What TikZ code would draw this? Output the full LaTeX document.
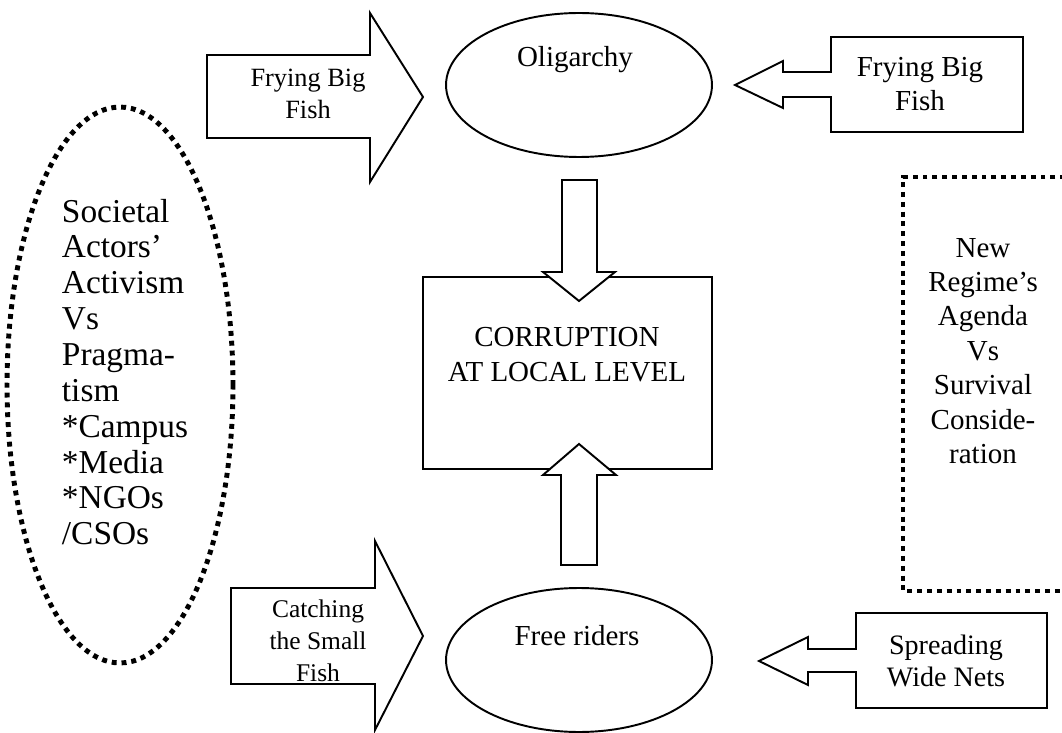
\documentclass[tikz,border=0pt]{standalone}
\usepackage{fontspec}
\setmainfont{Liberation Serif}
\usetikzlibrary{shapes.geometric,positioning}

\begin{document}
\begin{tikzpicture}[x=0.02cm,y=-0.02cm,line width=1.1pt,
    oval/.style={draw,ellipse,minimum width=5.32cm,minimum height=2.88cm,inner sep=0pt},
    blk/.style={draw,fill=white,line join=miter},
    dots/.style={draw,line width=2.8pt,dash pattern=on 2.8pt off 2.8pt},
    txt/.style={align=center,inner sep=0pt,font=\fontsize{16.5}{19.8}\selectfont},
    smalltxt/.style={align=center,inner sep=0pt,font=\fontsize{14.5}{18.2}\selectfont}]
  \useasboundingbox (0,0) rectangle (1062,733);

% societal actors and the regime
  \node[dots,ellipse,minimum width=4.52cm,minimum height=11.12cm] (soc) at (120,385) {};
  \node[txt,align=left,anchor=west,font=\fontsize{19}{20.4}\selectfont] (soctxt) at (61,372)
    {Societal\\Actors’\\Activism\\Vs\\Pragma-\\tism\\*Campus\\*Media\\*NGOs\\/CSOs};
  \draw[dots] (1075,177) -- (903,177) -- (903,591) -- (1075,591);
  \node[txt,font=\fontsize{16.5}{19.6}\selectfont] (regtxt) at (983,351)
    {New\\Regime’s\\Agenda\\Vs\\Survival\\Conside-\\ration};

% middle column
  \node[oval] (olig) at (579,85) {};
  \node[txt] (oligtxt) at (575,60) {Oligarchy};
  \node[draw,minimum width=5.78cm,minimum height=3.84cm,inner sep=0pt] (corr) at (567.5,373) {};
  \node[txt] (corrtxt) at (567,355) {CORRUPTION\\AT LOCAL LEVEL};
  \node[oval] (free) at (579,660) {};
  \node[txt] (freetxt) at (577,636) {Free riders};

  \draw[blk] (562,180) -- (597,180) -- (597,272) -- (615,272) -- (579,301)
    -- (543,272) -- (562,272) -- cycle;
  \draw[blk] (561,565) -- (597,565) -- (597,475) -- (616,475) -- (579,444)
    -- (543,475) -- (561,475) -- cycle;

% block arrows
  \draw[blk] (207,55) -- (370,55) -- (370,13) -- (423,97) -- (370,182)
    -- (370,138) -- (207,138) -- cycle;
  \node[smalltxt,font=\fontsize{15}{18.2}\selectfont] (frylefttxt) at (308,94) {Frying Big\\Fish};

  \draw[blk] (1023,37) -- (831,37) -- (831,72) -- (783,72) -- (783,61) -- (735,85)
    -- (783,108) -- (783,97) -- (831,97) -- (831,132) -- (1023,132) -- cycle;
  \node[txt] (fryrighttxt) at (920,84) {Frying Big\\Fish};

  \draw[blk] (231,588) -- (375,588) -- (375,541) -- (423,636) -- (375,730)
    -- (375,684) -- (231,684) -- cycle;
  \node[smalltxt] (catchtxt) at (318,641) {Catching\\the Small\\Fish};

  \draw[blk] (1047,613) -- (856,613) -- (856,649) -- (808,649) -- (808,637) -- (759,661)
    -- (808,685) -- (808,672) -- (856,672) -- (856,708) -- (1047,708) -- cycle;
  \node[txt,font=\fontsize{16}{18.2}\selectfont] (spreadtxt) at (946,661) {Spreading\\Wide Nets};
\end{tikzpicture}
\end{document}
